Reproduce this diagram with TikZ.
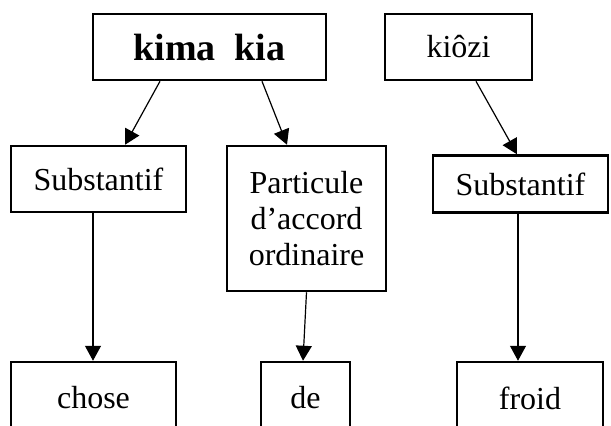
\documentclass[tikz,border=0pt]{standalone}
\usepackage{fontspec}
\setmainfont{Liberation Serif}
\usetikzlibrary{arrows.meta, positioning}

\tikzset{
  wordbox/.style={draw, line width=1.25pt, inner sep=0pt, align=center,
                  font=\fontsize{16}{18}\selectfont},
  link/.style={-{Triangle[length=7.5pt, width=8pt]}, line width=0.6pt},
}

\begin{document}
\begin{tikzpicture}[x=0.5pt, y=-0.5pt]
  \useasboundingbox (0,0) rectangle (611,425);
  \clip (0,0) rectangle (611,425);
  % words
  \node[wordbox, minimum width=116.5pt, minimum height=33pt,
        font=\fontsize{19}{23}\selectfont\bfseries] (kimakia) at (209.5,47) {kima\ \ kia};
  \node[wordbox, minimum width=73.5pt, minimum height=33pt] (kiozi) at (458.5,47) {kiôzi};
  % categories
  \node[wordbox, minimum width=87.5pt, minimum height=33pt] (subst1) at (98.5,179) {Substantif};
  \node[wordbox, minimum width=79.5pt, minimum height=72.5pt] (partic) at (306.5,218.5)
    {Particule\\d’accord\\ordinaire};
  \node[wordbox, minimum width=87.5pt, minimum height=28.5pt] (subst2) at (520.5,184) {Substantif};
  % meanings
  \node[wordbox, minimum width=82.5pt, minimum height=36pt] (chose) at (93.5,398) {chose};
  \node[wordbox, minimum width=44.5pt, minimum height=36pt] (de) at (305.5,398) {de};
  \node[wordbox, minimum width=73pt, minimum height=36pt] (froid) at (530,398) {froid};
  % links
  \draw[link] ([xshift=-24.75pt]kimakia.south) -- ([xshift=13.25pt]subst1.north);
  \draw[link] ([xshift=26.25pt]kimakia.south) -- ([xshift=-9.75pt]partic.north);
  \draw[link] ([xshift=8.75pt]kiozi.south) -- ([xshift=-1.75pt]subst2.north);
  \draw[link] ([xshift=-2.75pt]subst1.south) -- ([xshift=-0.25pt]chose.north);
  \draw[link] (partic.south) -- ([xshift=-1.25pt]de.north);
  \draw[link] ([xshift=-1.25pt]subst2.south) -- ([xshift=-6pt]froid.north);
\end{tikzpicture}
\end{document}
